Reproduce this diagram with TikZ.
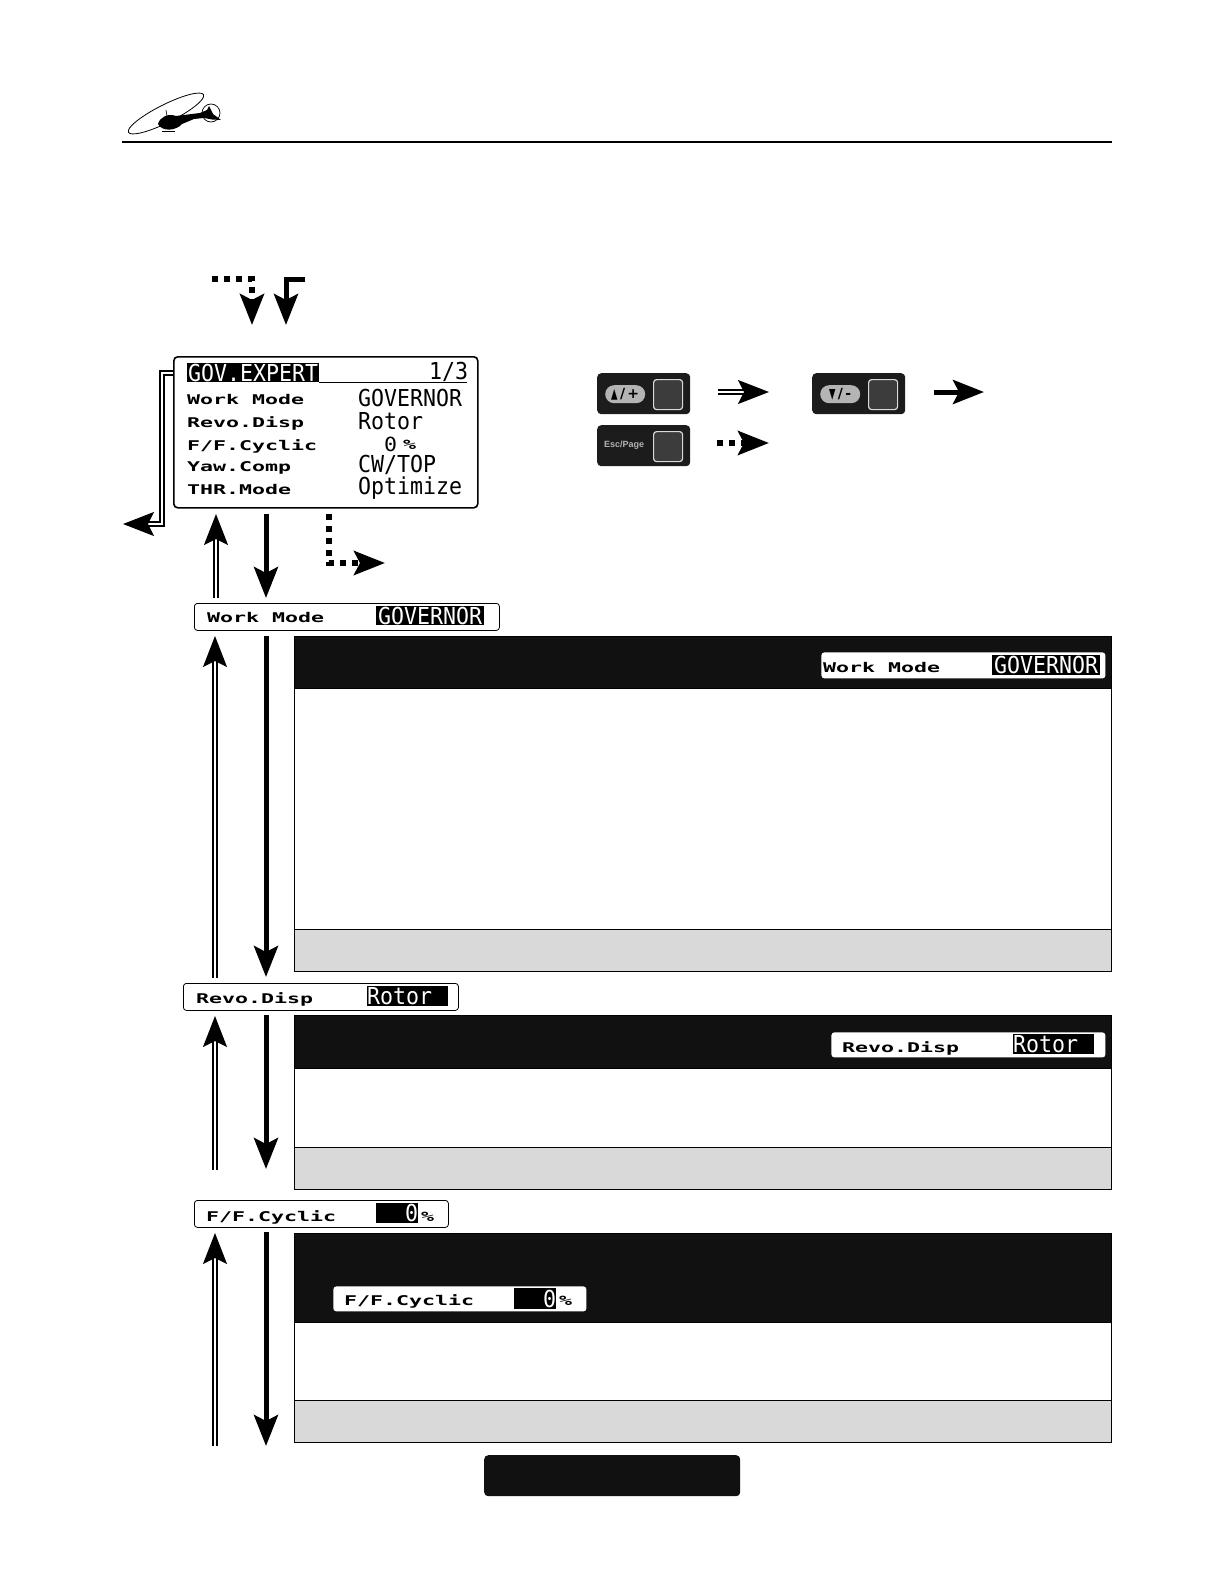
\documentclass[tikz,border=0pt]{standalone}
\usepackage{fontspec}
\usetikzlibrary{arrows.meta,positioning}
\newfontfamily\lcdfont{DejaVu Sans Mono}
\newfontfamily\lcdheavy{DejaVu Sans Mono Bold}
\newfontfamily\keyfont{DejaVu Sans Bold}
\setsansfont{Liberation Sans}
\definecolor{panelblack}{HTML}{111111}
\definecolor{panelgray}{HTML}{D9D9D9}
\definecolor{keyblack}{HTML}{1C1C1C}
\definecolor{keyinner}{HTML}{3C3C3C}
\definecolor{keypill}{HTML}{B4B4B4}
\newcommand{\lcdlow}[1]{\scalebox{1}[.62]{\fontsize{21.6}{22}\lcdheavy #1}}
\newcommand{\lcdtall}[1]{\scalebox{1}[1.08]{\fontsize{21.6}{22}\lcdfont #1}}
\tikzset{
  bigtip/.style={-{Stealth[length=31pt,width=24pt,inset=6pt]}},
  solidarrow/.style={bigtip,line width=5pt},
  doublearrow/.style={bigtip,draw=black,line width=1.8pt,double=white,double distance=1.8pt},
  dotarrow/.style={bigtip,line width=5.5pt,dash pattern=on 6pt off 6pt},
  lcdtext/.style={anchor=west,inner sep=0pt},
  lcdbar/.style={draw=black,fill=white,rounded corners=3pt,line width=.8pt,anchor=north west,inner sep=0pt},
  lcdsel/.style={fill=black,text=white,anchor=north west,inner sep=0pt},
  panelbox/.style={draw=black,line width=1pt,anchor=north west,inner sep=0pt,minimum width=817pt},
  keybox/.style={fill=keyblack,rounded corners=4pt,anchor=north west,inner sep=0pt,minimum width=93pt,minimum height=41pt},
  keysquare/.style={draw=gray!30,fill=keyinner,line width=1.2pt,rounded corners=3pt,anchor=north west,inner sep=0pt,minimum width=29pt,minimum height=30pt},
  keypillbox/.style={fill=keypill,rounded corners=9pt,anchor=north west,inner sep=0pt,minimum width=40pt,minimum height=18pt,text=black,font=\keyfont\fontsize{14}{14}\selectfont},
}
\begin{document}
\begin{tikzpicture}[x=1pt,y=-1pt]
  \useasboundingbox (0,0) rectangle (1224,1584);
  % helicopter
  \draw[line width=.8pt,rotate around={26.6:(166,113.5)}] (166,113.5) ellipse (42 and 9);
  \draw[line width=.7pt] (211,113) circle (9);
  \fill (158,124) .. controls (160,117) and (168,113) .. (176,116) -- (200,113) -- (207,110)
    -- (209,106) -- (213,114) -- (221,120) -- (212,119.5) -- (204,118) -- (194,119)
    -- (182,124) .. controls (176,131) and (162,132) .. (158,124) -- cycle;
  \draw[line width=.6pt] (162,131) -- (175,131);
  \draw[line width=.6pt] (166,110) -- (167,116);
  \coordinate (rulea) at (122,142);
  \coordinate (ruleb) at (1112,142);
  \draw[line width=2pt] (rulea) -- (ruleb);
  % top arrows
  \coordinate (dota) at (212,279);
  \coordinate (dotb) at (252,279);
  \coordinate (dotc) at (252,325);
  \draw[dotarrow] (dota) -- (dotb) -- (dotc);
  \coordinate (sola) at (305,279);
  \coordinate (solb) at (286,279);
  \coordinate (solc) at (286,325);
  \draw[solidarrow] (sola) -- (solb) -- (solc);
  % main screen
  \node[lcdbar,line width=1.6pt,rounded corners=4pt,minimum width=304pt,minimum height=151pt] (mainlcd) at (173,356) {};
  \node[lcdsel,minimum width=132pt,minimum height=19pt] (govtitle) at (187,363) {\lcdtall{GOV.EXPERT}};
  \coordinate (linea) at (319,382);
  \coordinate (lineb) at (467,382);
  \draw[line width=1pt] (linea) -- (lineb);
  \node[lcdtext] (govpage) at (429,372) {\lcdtall{1/3}};
  \node[lcdtext] (rowwork) at (187,400) {\lcdlow{Work Mode}};
  \node[lcdtext] (rowrevo) at (187,423) {\lcdlow{Revo.Disp}};
  \node[lcdtext] (rowcyc) at (187,446) {\lcdlow{F/F.Cyclic}};
  \node[lcdtext] (rowyaw) at (187,468) {\lcdlow{Yaw.Comp}};
  \node[lcdtext] (rowthr) at (187,490) {\lcdlow{THR.Mode}};
  \node[lcdtext] (valwork) at (358,398) {\lcdtall{GOVERNOR}};
  \node[lcdtext] (valrevo) at (358,421) {\lcdtall{Rotor}};
  \node[lcdtext] (valcyc) at (384,444) {\scalebox{1}[.9]{\fontsize{21.6}{22}\lcdfont 0}};
  \node[lcdtext] (valpct) at (403,445) {\lcdlow{\%}};
  \node[lcdtext] (valyaw) at (358,465) {\lcdtall{CW/TOP}};
  \node[lcdtext] (valthr) at (358,488) {\lcdtall{Optimize}};
  % leave screen
  \coordinate (exita) at (173,373);
  \coordinate (exitb) at (162,373);
  \coordinate (exitc) at (162,524);
  \coordinate (exitd) at (123,524);
  \draw[doublearrow] (exita) -- (exitb) -- (exitc) -- (exitd);
  \coordinate (upa) at (216,598);
  \coordinate (upb) at (216,514);
  \draw[doublearrow] (upa) -- (upb);
  \coordinate (dna) at (266,514);
  \coordinate (dnb) at (266,598);
  \draw[solidarrow] (dna) -- (dnb);
  \coordinate (esca) at (329,514);
  \coordinate (escb) at (329,563);
  \coordinate (escc) at (385,563);
  \draw[dotarrow] (esca) -- (escb) -- (escc);
  % key legend
  \node[keybox] (keyup) at (597,373) {};
  \node[keysquare] (keyupsq) at (653,379) {};
  \node[keypillbox] (keyuppill) at (605,385) {\scalebox{.6}[1]{▲}\,/\,+};
  \node[keybox] (keydown) at (812,373) {};
  \node[keysquare] (keydownsq) at (868,379) {};
  \node[keypillbox] (keydownpill) at (820,385) {\scalebox{.6}[1]{▼}\,/\,-};
  \node[keybox] (keyesc) at (597,425) {};
  \node[keysquare] (keyescsq) at (653,431) {};
  \node[anchor=west,inner sep=0pt,text=gray!60,font=\sffamily\bfseries\fontsize{9}{9}\selectfont] (keyesctxt) at (604,445) {Esc/Page};
  \coordinate (lega) at (718,392);
  \coordinate (legb) at (769,392);
  \draw[doublearrow] (lega) -- (legb);
  \coordinate (legc) at (934,392);
  \coordinate (legd) at (984,392);
  \draw[solidarrow] (legc) -- (legd);
  \coordinate (lege) at (717,443);
  \coordinate (legf) at (769,443);
  \draw[dotarrow] (lege) -- (legf);
  % Work Mode
  \node[lcdbar,minimum width=305pt,minimum height=27pt] (workbar) at (194,603) {};
  \node[lcdtext] (worktxt) at (207,618) {\lcdlow{Work Mode}};
  \node[lcdsel,minimum width=108pt,minimum height=19pt] (worksel) at (376,606) {\lcdtall{GOVERNOR}};
  \node[panelbox,minimum height=335pt] (workpanel) at (294,636) {};
  \node[panelbox,fill=panelblack,minimum height=52pt] (workhead) at (294,636) {};
  \node[panelbox,fill=panelgray,minimum height=42pt] (workfoot) at (294,929) {};
  \node[lcdbar,draw=none,minimum width=284pt,minimum height=26pt] (workhbar) at (821,652) {};
  \node[lcdtext] (workhtxt) at (823,667) {\lcdlow{Work Mode}};
  \node[lcdsel,minimum width=108pt,minimum height=20pt] (workhsel) at (992,655) {\lcdtall{GOVERNOR}};
  \coordinate (upc) at (215,978);
  \coordinate (upd) at (215,636);
  \draw[doublearrow] (upc) -- (upd);
  \coordinate (dnc) at (266,636);
  \coordinate (dnd) at (266,977);
  \draw[solidarrow] (dnc) -- (dnd);
  % Revo.Disp
  \node[lcdbar,minimum width=275pt,minimum height=27pt] (revobar) at (183,983) {};
  \node[lcdtext] (revotxt) at (196,999) {\lcdlow{Revo.Disp}};
  \node[lcdsel,minimum width=81pt,minimum height=20pt,text width=81pt,align=left] (revosel) at (367,986) {\lcdtall{Rotor}};
  \node[panelbox,minimum height=174pt] (revopanel) at (294,1015) {};
  \node[panelbox,fill=panelblack,minimum height=53pt] (revohead) at (294,1015) {};
  \node[panelbox,fill=panelgray,minimum height=42pt] (revofoot) at (294,1147) {};
  \node[lcdbar,draw=none,minimum width=274pt,minimum height=25pt] (revohbar) at (831,1032) {};
  \node[lcdtext] (revohtxt) at (842,1048) {\lcdlow{Revo.Disp}};
  \node[lcdsel,minimum width=81pt,minimum height=20pt,text width=81pt,align=left] (revohsel) at (1013,1034) {\lcdtall{Rotor}};
  \coordinate (upe) at (215,1170);
  \coordinate (upf) at (215,1016);
  \draw[doublearrow] (upe) -- (upf);
  \coordinate (dne) at (266,1015);
  \coordinate (dnf) at (266,1169);
  \draw[solidarrow] (dne) -- (dnf);
  % F/F.Cyclic
  \node[lcdbar,minimum width=254pt,minimum height=27pt] (cycbar) at (194,1200) {};
  \node[lcdtext] (cyctxt) at (206,1217) {\lcdlow{F/F.Cyclic}};
  \node[lcdsel,minimum width=42pt,minimum height=20pt,text width=42pt,align=right] (cycsel) at (376,1203) {\lcdtall{0}};
  \node[lcdtext] (cycpct) at (421,1217) {\lcdlow{\%}};
  \node[panelbox,minimum height=209pt] (cycpanel) at (294,1233) {};
  \node[panelbox,fill=panelblack,minimum height=89pt] (cychead) at (294,1233) {};
  \node[panelbox,fill=panelgray,minimum height=42pt] (cycfoot) at (294,1400) {};
  \node[lcdbar,draw=none,minimum width=253pt,minimum height=25pt] (cychbar) at (333,1286) {};
  \node[lcdtext] (cychtxt) at (344,1301) {\lcdlow{F/F.Cyclic}};
  \node[lcdsel,minimum width=42pt,minimum height=21pt,text width=42pt,align=right] (cychsel) at (514,1288) {\lcdtall{0}};
  \node[lcdtext] (cychpct) at (559,1301) {\lcdlow{\%}};
  \coordinate (upg) at (215,1446);
  \coordinate (uph) at (215,1233);
  \draw[doublearrow] (upg) -- (uph);
  \coordinate (dng) at (266,1232);
  \coordinate (dnh) at (266,1446);
  \draw[solidarrow] (dng) -- (dnh);
  % page tab
  \node[fill=panelblack,rounded corners=4pt,anchor=north west,inner sep=0pt,minimum width=256pt,minimum height=41pt] (pagetab) at (484,1455) {};
\end{tikzpicture}
\end{document}
